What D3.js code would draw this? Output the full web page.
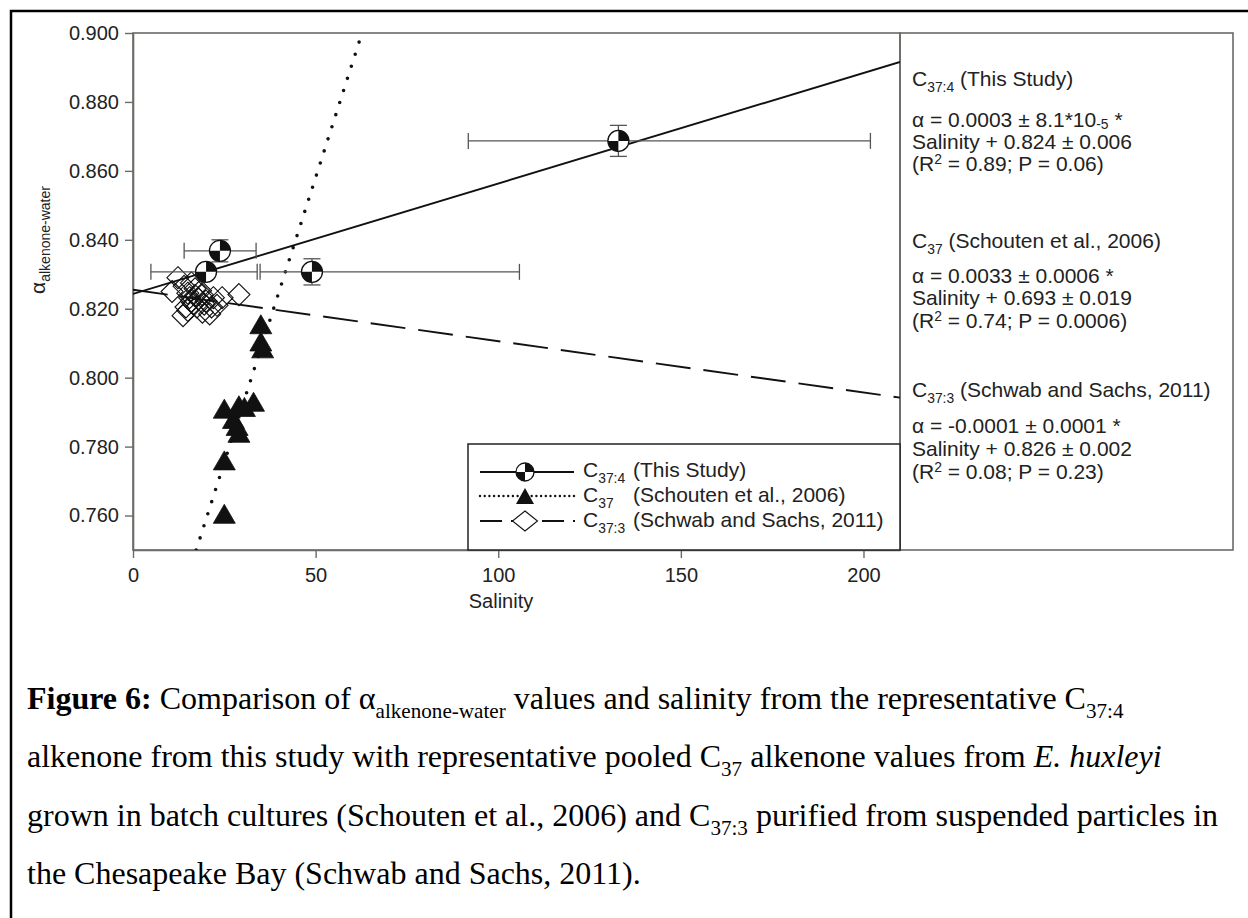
<!DOCTYPE html>
<html><head><meta charset="utf-8">
<script src="https://cdn.jsdelivr.net/npm/d3@7"></script>
<style>body{margin:0;background:#fff}svg{display:block}</style>
</head><body>
<svg id="chart" width="1248" height="918"></svg>
<script>
// ---------- data ----------
const xTicks = [0, 50, 100, 150, 200];
const yTicks = [0.76, 0.78, 0.80, 0.82, 0.84, 0.86, 0.88, 0.90];

// C37:4 (This Study) with error bars
const c374Salinity = [23.8, 20.0, 49.0, 132.9];
const c374Alpha    = [0.8368, 0.8307, 0.8307, 0.8687];
const c374SalLow   = [14.0, 4.9, 34.8, 91.8];
const c374SalHigh  = [33.7, 34.0, 105.8, 201.9];
const c374AlphaErr = [0.0032, 0.0015, 0.0038, 0.0045];

// C37 (Schouten et al., 2006)
const c37Salinity = [25, 25, 29, 28.5, 27.5, 25, 29, 33, 30.5, 35, 35, 35.5];
const c37Alpha    = [0.7605, 0.776, 0.784, 0.786, 0.788, 0.791, 0.792, 0.793, 0.7915, 0.8155, 0.8105, 0.8085];

// C37:3 (Schwab and Sachs, 2011)
const c373Salinity = [12.3, 10.7, 14, 15, 16, 17, 15.5, 18, 16.5, 14.5, 13.7, 19, 20, 21.5, 22, 24.4, 29, 18.5, 17.5, 19, 21, 23, 16, 19.5, 17, 15];
const c373Alpha    = [0.829, 0.825, 0.8265, 0.8245, 0.8275, 0.8258, 0.8232, 0.8228, 0.8215, 0.8205, 0.818, 0.824, 0.8222, 0.8205, 0.8232, 0.8232, 0.8241, 0.8252, 0.8205, 0.819, 0.8185, 0.821, 0.8222, 0.8213, 0.8238, 0.8195];

// regression line end points [salinity, alpha]
const fitC374 = [[0, 0.8243], [210, 0.8916]];
const fitC37  = [[17.3, 0.75], [62.7, 0.9]];
const fitC373 = [[0, 0.8255], [210, 0.7942]];

// ---------- setup ----------
const svg = d3.select("#chart");
const SANS = "'Liberation Sans', Arial, Helvetica, sans-serif";
const SERIF = "'Liberation Serif', 'Times New Roman', serif";
const L = 133, R = 900, T = 33, B = 550;
const x = d3.scaleLinear().domain([0, 210]).range([L, R]);
const y = d3.scaleLinear().domain([0.75, 0.9]).range([B, T]);
const axisCol = "#6a6a66";

// outer page frame
svg.append("path").attr("d", "M11,930 V11 H1260").attr("fill", "none")
  .attr("stroke", "#000").attr("stroke-width", 2.5);

// plot frame + right text box
svg.append("rect").attr("x", L).attr("y", T).attr("width", R - L).attr("height", B - T)
  .attr("fill", "none").attr("stroke", axisCol).attr("stroke-width", 1.6);
svg.append("rect").attr("x", R).attr("y", T).attr("width", 1233 - R).attr("height", B - T)
  .attr("fill", "none").attr("stroke", axisCol).attr("stroke-width", 1.6);

// axes
const yAxis = svg.append("g").attr("transform", `translate(${L},0)`)
  .call(d3.axisLeft(y).tickValues(yTicks).tickFormat(d3.format(".3f")).tickSize(8).tickSizeOuter(0).tickPadding(6));
const xAxis = svg.append("g").attr("transform", `translate(0,${B})`)
  .call(d3.axisBottom(x).tickValues(xTicks).tickFormat(d3.format("d")).tickSize(8).tickSizeOuter(0).tickPadding(10));
[yAxis, xAxis].forEach(a => {
  a.select(".domain").attr("stroke", axisCol).attr("stroke-width", 1.6);
  a.selectAll(".tick line").attr("stroke", axisCol).attr("stroke-width", 1.4);
  a.selectAll(".tick text").attr("font-family", SANS).attr("font-size", 20).attr("fill", "#222");
});

// axis titles
svg.append("text").attr("x", 501).attr("y", 608).attr("text-anchor", "middle")
  .attr("font-family", SANS).attr("font-size", 20).attr("fill", "#222").text("Salinity");
const yl = svg.append("text").attr("transform", "translate(45,240) rotate(-90)")
  .attr("text-anchor", "middle").attr("font-family", SANS).attr("font-size", 21).attr("fill", "#222");
yl.append("tspan").text("α");
yl.append("tspan").attr("font-size", 14).attr("dy", 5).text("alkenone-water");

// clip
svg.append("clipPath").attr("id", "clip").append("rect")
  .attr("x", L).attr("y", T).attr("width", R - L).attr("height", B - T);
const plot = svg.append("g").attr("clip-path", "url(#clip)");

const line = d3.line().x(d => x(d[0])).y(d => y(d[1]));

// regression lines
plot.append("path").attr("d", line(fitC374)).attr("fill", "none").attr("stroke", "#111").attr("stroke-width", 1.9);
plot.append("path").attr("d", line(fitC373)).attr("fill", "none").attr("stroke", "#111").attr("stroke-width", 1.9)
  .attr("stroke-dasharray", "35 13");
plot.append("path").attr("d", line(fitC37)).attr("fill", "none").attr("stroke", "#111").attr("stroke-width", 3.6)
  .attr("stroke-linecap", "round").attr("stroke-dasharray", "0 12.7");

// diamonds
const diamond = (cx, cy, h, w) => `M${cx},${cy - h}L${cx + w},${cy}L${cx},${cy + h}L${cx - w},${cy}Z`;
plot.selectAll(".dia").data(c373Salinity.map((s, i) => [s, c373Alpha[i]])).join("path")
  .attr("d", d => diamond(x(d[0]), y(d[1]), 11, 11))
  .attr("fill", "none").attr("stroke", "#111").attr("stroke-width", 1.1);

// triangles
const tri = (cx, cy, hw, hh) => `M${cx},${cy - hh}L${cx + hw},${cy + hh}L${cx - hw},${cy + hh}Z`;
plot.selectAll(".tri").data(c37Salinity.map((s, i) => [s, c37Alpha[i]])).join("path")
  .attr("d", d => tri(x(d[0]), y(d[1]), 11, 9.5))
  .attr("fill", "#111").attr("stroke", "#111").attr("stroke-width", 0.8);

// error bars
const ebCol = "#555";
const eb = svg.append("g").attr("stroke", ebCol).attr("stroke-width", 1.3);
c374Salinity.forEach((s, i) => {
  const cy = y(c374Alpha[i]);
  eb.append("line").attr("x1", x(c374SalLow[i])).attr("x2", x(c374SalHigh[i])).attr("y1", cy).attr("y2", cy);
  [c374SalLow[i], c374SalHigh[i]].forEach(v => eb.append("line").attr("x1", x(v)).attr("x2", x(v)).attr("y1", cy - 8).attr("y2", cy + 8));
  const yt = y(c374Alpha[i] + c374AlphaErr[i]), yb = y(c374Alpha[i] - c374AlphaErr[i]);
  eb.append("line").attr("x1", x(s)).attr("x2", x(s)).attr("y1", yt).attr("y2", yb);
  [yt, yb].forEach(v => eb.append("line").attr("x1", x(s) - 8.5).attr("x2", x(s) + 8.5).attr("y1", v).attr("y2", v));
});

// quartered circle marker
const arc = d3.arc().innerRadius(0);
function quartered(g, cx, cy, r) {
  const m = g.append("g").attr("transform", `translate(${cx},${cy})`);
  m.append("circle").attr("r", r).attr("fill", "#fff");
  m.append("path").attr("d", arc({outerRadius: r, startAngle: 0, endAngle: Math.PI / 2})).attr("fill", "#111");
  m.append("path").attr("d", arc({outerRadius: r, startAngle: Math.PI, endAngle: 1.5 * Math.PI})).attr("fill", "#111");
  m.append("circle").attr("r", r).attr("fill", "none").attr("stroke", "#111").attr("stroke-width", 1.3);
}
const circ = svg.append("g");
c374Salinity.forEach((s, i) => quartered(circ, x(s), y(c374Alpha[i]), 10.5));

// rich text helper
function rich(g, x0, y0, parts, size, family) {
  const t = g.append("text").attr("x", x0).attr("y", y0).attr("font-family", family || SANS)
    .attr("font-size", size).attr("fill", "#222");
  let shift = 0;
  parts.forEach(p => {
    const [txt, kind] = typeof p === "string" ? [p, ""] : p;
    let target = 0, fs = size, style = null, weight = null;
    if (kind === "sub") { target = size * 0.28; fs = size * 0.66; }
    else if (kind === "sup") { target = -size * 0.33; fs = size * 0.66; }
    else if (kind === "small") { target = size * 0.08; fs = size * 0.66; }
    else if (kind === "i") style = "italic";
    else if (kind === "b") weight = "bold";
    const ts = t.append("tspan").attr("dy", target - shift).attr("font-size", fs).text(txt);
    if (style) ts.attr("font-style", style);
    if (weight) ts.attr("font-weight", weight);
    shift = target;
  });
  return t;
}

// right-hand equations box
const eqG = svg.append("g");
const ex = 912, fs = 21;
rich(eqG, ex, 86, ["C", ["37:4", "sub"], " (This Study)"], fs);
rich(eqG, ex, 127, ["α = 0.0003 ± 8.1*10", ["-5", "small"], " *"], fs);
rich(eqG, ex, 149, ["Salinity + 0.824 ± 0.006"], fs);
rich(eqG, ex, 171, ["(R", ["2", "sup"], " = 0.89; P = 0.06)"], fs);
rich(eqG, ex, 248, ["C", ["37", "sub"], " (Schouten et al., 2006)"], fs);
rich(eqG, ex, 283, ["α = 0.0033 ± 0.0006 *"], fs);
rich(eqG, ex, 305, ["Salinity + 0.693 ± 0.019"], fs);
rich(eqG, ex, 328, ["(R", ["2", "sup"], " = 0.74; P = 0.0006)"], fs);
rich(eqG, ex, 397, ["C", ["37:3", "sub"], " (Schwab and Sachs, 2011)"], fs);
rich(eqG, ex, 433, ["α = -0.0001 ± 0.0001 *"], fs);
rich(eqG, ex, 456, ["Salinity + 0.826 ± 0.002"], fs);
rich(eqG, ex, 479, ["(R", ["2", "sup"], " = 0.08; P = 0.23)"], fs);

// legend
const lg = svg.append("g");
lg.append("rect").attr("x", 468).attr("y", 444).attr("width", R - 468).attr("height", B - 444)
  .attr("fill", "#fff").attr("stroke", "#222").attr("stroke-width", 1.5);
const lx1 = 480, lx2 = 574, lmx = 525;
const rows = [472, 496, 521];
lg.append("line").attr("x1", lx1).attr("x2", lx2).attr("y1", rows[0]).attr("y2", rows[0]).attr("stroke", "#111").attr("stroke-width", 1.8);
quartered(lg, lmx, rows[0], 9);
lg.append("line").attr("x1", lx1).attr("x2", lx2).attr("y1", rows[1]).attr("y2", rows[1]).attr("stroke", "#111")
  .attr("stroke-width", 2.4).attr("stroke-linecap", "round").attr("stroke-dasharray", "0 4.7");
lg.append("path").attr("d", tri(lmx, rows[1], 9, 8)).attr("fill", "#111");
lg.append("line").attr("x1", lx1).attr("x2", lx2 + 1).attr("y1", rows[2]).attr("y2", rows[2]).attr("stroke", "#111")
  .attr("stroke-width", 1.8).attr("stroke-dasharray", "22 9");
lg.append("path").attr("d", diamond(lmx, rows[2], 10, 12.5)).attr("fill", "#fff").attr("stroke", "#111").attr("stroke-width", 1.1);
const legTexts = [[["C", ["37:4", "sub"]], "(This Study)"], [["C", ["37", "sub"]], "(Schouten et al., 2006)"], [["C", ["37:3", "sub"]], "(Schwab and Sachs, 2011)"]];
const legBase = [477, 502, 527];
legTexts.forEach((lt, i) => {
  rich(lg, 583, legBase[i], lt[0], 21);
  rich(lg, 633, legBase[i], [lt[1]], 21);
});

// caption
const cap = svg.append("g");
const cfs = 32, cx0 = 27;
rich(cap, cx0, 709, [["Figure 6:", "b"], " Comparison of α", ["alkenone-water", "sub"], " values and salinity from the representative C", ["37:4", "sub"]], cfs, SERIF);
rich(cap, cx0, 767, ["alkenone from this study with representative pooled C", ["37", "sub"], " alkenone values from ", ["E. huxleyi", "i"]], cfs, SERIF);
rich(cap, cx0, 826, ["grown in batch cultures (Schouten et al., 2006) and C", ["37:3", "sub"], " purified from suspended particles in"], cfs, SERIF);
rich(cap, cx0, 884, ["the Chesapeake Bay (Schwab and Sachs, 2011)."], cfs, SERIF);
cap.selectAll("text").attr("fill", "#000");
</script>
</body></html>
